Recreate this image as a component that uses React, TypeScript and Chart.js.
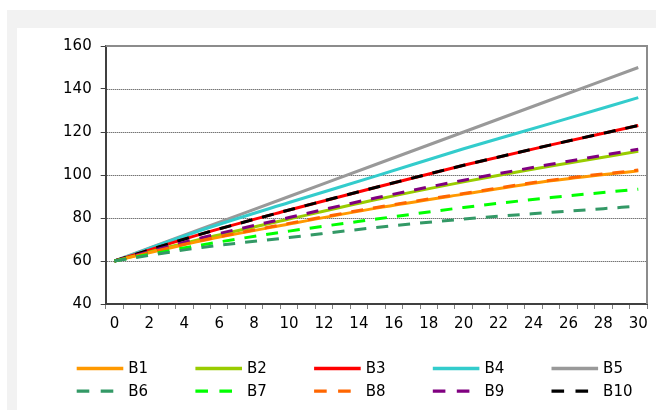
import React, { useEffect, useRef } from 'react';
import { Chart, registerables } from 'chart.js';

Chart.register(...registerables);

// Category labels (x axis) and tick values (y axis)
const categories = ['0','1','2','3','4','5','6','7','8','9','10','11','12','13','14','15','16','17','18','19','20','21','22','23','24','25','26','27','28','29','30'];
const sampleX = ['0', '5', '10', '15', '20', '25', '30'];
const yMin = 40;
const yMax = 160;
const yStep = 20;

// Series values read at x = 0, 5, 10, 15, 20, 25, 30
const seriesNames = ['B1', 'B2', 'B3', 'B4', 'B5', 'B6', 'B7', 'B8', 'B9', 'B10'];
const b1 = [60, 69.4, 77.2, 84.6, 91.1, 97.3, 102];
const b2 = [60, 70.2, 79.5, 88.6, 96.8, 104.2, 111];
const b3 = [60, 72.6, 83.7, 94.3, 104.5, 114, 123];
const b4 = [60, 74.4, 87.2, 99.6, 112.2, 124, 136];
const b5 = [60, 75, 90, 105, 120, 135, 150];
const b6 = [60, 66.3, 70.9, 75.6, 79.5, 82.6, 85.5];
const b7 = [60, 67.5, 73.9, 79.5, 84.9, 89.5, 93.4];
const b8 = [60, 69.6, 77.5, 84.9, 91.4, 97.6, 102.3];
const b9 = [60, 70.8, 80.2, 89.4, 97.6, 105, 112];
const b10 = [60, 72.6, 83.7, 94.3, 104.5, 114, 123];

const seriesColors = ['#FF9900', '#99CC00', '#FF0000', '#33CCCC', '#999999', '#339966', '#00FF00', '#FF6600', '#800080', '#000000'];
const seriesDashed = [false, false, false, false, false, true, true, true, true, true];

const FONT = '"DejaVu Sans", sans-serif';

const framePlugin = {
  id: 'frame',
  beforeDatasetsDraw(chart: any) {
    const { ctx, chartArea } = chart;
    const { left, right, top, bottom } = chartArea;
    const yScale = chart.scales.y;
    ctx.save();
    // dotted horizontal grid lines at the y ticks
    ctx.strokeStyle = '#3a3a3a';
    ctx.lineWidth = 1;
    ctx.setLineDash([1, 1]);
    yScale.ticks.forEach((t: any) => {
      if (t.value === yMin || t.value === yMax) return;
      const py = Math.round(yScale.getPixelForValue(t.value)) + 0.5;
      ctx.beginPath();
      ctx.moveTo(left + 1, py);
      ctx.lineTo(right, py);
      ctx.stroke();
    });
    // plot frame (top and right)
    ctx.setLineDash([]);
    ctx.strokeStyle = '#8c8c8c';
    ctx.lineWidth = 2;
    ctx.beginPath();
    ctx.moveTo(left, top);
    ctx.lineTo(right, top);
    ctx.lineTo(right, bottom);
    ctx.stroke();
    ctx.restore();
  },
};

const legendPlugin = {
  id: 'gridLegend',
  afterDraw(chart: any) {
    const ctx = chart.ctx;
    ctx.save();
    chart.data.datasets.forEach((ds: any, i: number) => {
      const col = i % 5;
      const row = Math.floor(i / 5);
      const x0 = 59.7 + col * 118.7;
      const y = 340.5 + row * 22.7;
      const dashed = ds.borderDash && ds.borderDash.length > 0;
      ctx.strokeStyle = ds.borderColor;
      ctx.lineWidth = 3.3;
      ctx.lineCap = 'butt';
      ctx.setLineDash(dashed ? [12.6, 11.4] : []);
      ctx.beginPath();
      ctx.moveTo(x0, y);
      ctx.lineTo(x0 + (dashed ? 36.6 : 46.6), y);
      ctx.stroke();
      ctx.setLineDash([]);
      ctx.fillStyle = '#000';
      ctx.font = `15px ${FONT}`;
      ctx.textBaseline = 'middle';
      ctx.textAlign = 'left';
      ctx.fillText(ds.label, x0 + 51.6, y + 1);
    });
    ctx.restore();
  },
};

export default function App() {
  const ref = useRef<HTMLCanvasElement>(null);

  useEffect(() => {
    if (!ref.current) return;
    const values = [b1, b2, b3, b4, b5, b6, b7, b8, b9, b10];
    const datasets = values.map((vals, i) => ({
      label: seriesNames[i],
      data: sampleX.map((x, j) => ({ x, y: vals[j] })),
      borderColor: seriesColors[i],
      backgroundColor: seriesColors[i],
      borderWidth: 3,
      borderDash: seriesDashed[i] ? [12, 10] : [],
      pointRadius: 0,
      fill: false,
      cubicInterpolationMode: 'monotone' as const,
      order: seriesDashed[i] ? 0 : 1,
    }));

    const chart = new Chart(ref.current, {
      type: 'line',
      data: { labels: categories, datasets },
      options: {
        responsive: false,
        animation: false,
        devicePixelRatio: 1,
        layout: { padding: { left: 0, top: 17, right: 9, bottom: 66 } },
        plugins: { legend: { display: false }, tooltip: { enabled: false } },
        scales: {
          x: {
            type: 'category',
            offset: true,
            grid: {
              offset: true,
              drawOnChartArea: false,
              drawTicks: true,
              tickLength: 5,
              color: '#808080',
              tickColor: '#808080',
            },
            border: { color: '#404040', width: 2 },
            ticks: {
              autoSkip: false,
              maxRotation: 0,
              minRotation: 0,
              padding: 6,
              color: '#000',
              font: { family: FONT, size: 15 },
              callback: function (this: any, v: any, i: number) {
                return i % 2 === 0 ? this.getLabelForValue(v) : '';
              },
            },
            afterFit: (s: any) => { s.height = 40; },
          },
          y: {
            min: yMin,
            max: yMax,
            ticks: {
              stepSize: yStep,
              padding: 9,
              color: '#000',
              font: { family: FONT, size: 15 },
            },
            grid: {
              drawOnChartArea: false,
              drawTicks: true,
              color: '#404040',
              tickColor: '#404040',
              tickLength: 5,
              lineWidth: 1,
            },
            border: { color: '#404040', width: 2 },
            afterFit: (s: any) => { s.width = 88.7; },
          },
        },
      } as any,
      plugins: [framePlugin, legendPlugin],
    });
    return () => chart.destroy();
  }, []);

  return (
    <div style={{ position: 'absolute', left: 7, top: 10, width: 649, height: 400, background: '#f2f2f2', overflow: 'hidden' }}>
      <div style={{ position: 'absolute', left: 10, top: 18, width: 639, height: 382, background: '#ffffff' }}>
        <canvas ref={ref} width={639} height={382} style={{ display: 'block', width: 639, height: 382 }} />
      </div>
    </div>
  );
}
